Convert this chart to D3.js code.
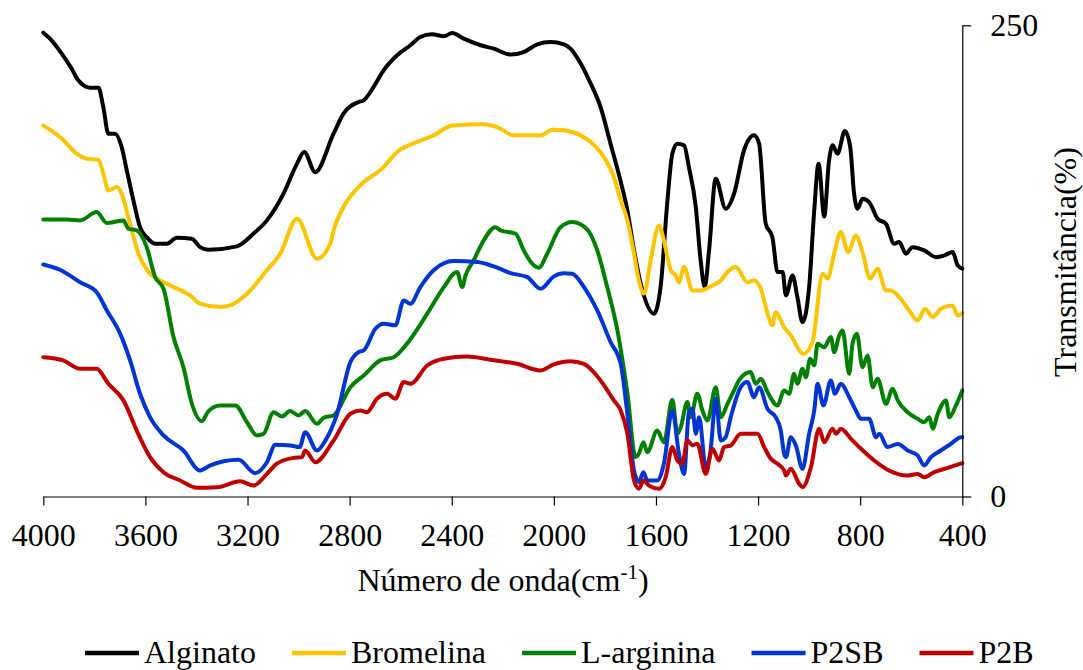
<!DOCTYPE html>
<html>
<head>
<meta charset="utf-8">
<script src="https://cdn.jsdelivr.net/npm/d3@7"></script>
<style>
  html, body { margin: 0; padding: 0; background: #fff; }
  svg { display: block; }
  svg text { font-family: "Liberation Serif", "Times New Roman", Times, Tinos, "Noto Serif", "DejaVu Serif", FreeSerif, serif; fill: #000; }
</style>
</head>
<body>
<svg id="chart" width="1083" height="670"></svg>
<script>
// FTIR spectra: [wavenumber (cm-1), transmittance (%)]
const alginato = [[4000,246.1],[3974,242.9],[3928,235.0],[3889,227.0],[3863,220.8],[3817,216.9],[3784,216.9],[3765,206.6],[3745,192.5],[3719,192.5],[3693,185.4],[3673,173.0],[3647,157.1],[3621,142.9],[3595,137.6],[3562,134.1],[3516,134.1],[3477,137.3],[3418,136.8],[3386,132.3],[3353,130.9],[3242,132.7],[3177,139.4],[3124,146.5],[3059,160.7],[3006,176.6],[2978,182.8],[2935,172.1],[2863,192.5],[2824,203.1],[2765,209.3],[2745,210.2],[2706,217.3],[2667,226.1],[2614,234.1],[2562,239.4],[2523,243.8],[2477,245.2],[2431,244.2],[2398,245.9],[2353,242.9],[2287,239.4],[2235,237.6],[2170,234.5],[2118,235.8],[2065,239.9],[2013,241.1],[1961,239.9],[1935,237.6],[1895,229.7],[1856,219.1],[1817,206.6],[1778,187.2],[1738,167.0],[1712,151.8],[1686,130.6],[1653,109.3],[1608,97.0],[1582,111.1],[1555,157.1],[1536,181.9],[1516,187.2],[1490,186.3],[1471,174.8],[1444,153.6],[1425,125.3],[1409,111.1],[1392,130.6],[1366,168.6],[1327,152.7],[1294,160.7],[1255,183.7],[1216,191.6],[1196,187.2],[1170,144.7],[1144,137.6],[1124,119.1],[1104,119.1],[1091,106.7],[1065,117.3],[1046,105.8],[1026,92.5],[1000,111.1],[980,151.8],[963,176.6],[941,148.6],[922,178.3],[908,186.3],[889,181.9],[860,193.9],[839,185.4],[824,160.7],[810,152.7],[791,158.0],[765,156.2],[732,147.4],[699,144.7],[667,134.1],[647,135.0],[621,128.8],[595,132.3],[549,130.6],[503,127.0],[471,127.9],[438,129.7],[418,122.6],[400,120.9]];

const bromelina = [[4000,196.9],[3928,189.9],[3869,181.9],[3830,179.2],[3784,178.7],[3765,171.3],[3745,162.4],[3712,164.2],[3693,160.7],[3667,148.2],[3627,128.8],[3588,119.1],[3542,114.6],[3484,110.8],[3425,106.7],[3386,102.3],[3307,100.5],[3268,101.4],[3202,107.6],[3124,120.0],[3072,128.8],[3006,147.4],[2928,126.2],[2876,134.1],[2863,141.2],[2824,153.6],[2765,164.2],[2667,174.8],[2614,182.8],[2536,188.1],[2471,191.6],[2398,196.9],[2275,197.5],[2222,196.0],[2157,191.6],[2052,191.6],[2006,194.6],[1961,194.3],[1895,191.6],[1856,188.1],[1804,180.1],[1765,169.5],[1738,157.1],[1712,146.5],[1686,128.8],[1667,114.6],[1647,107.6],[1621,125.3],[1588,143.8],[1569,135.9],[1542,120.0],[1523,117.3],[1510,113.7],[1490,121.7],[1457,109.3],[1425,109.3],[1379,112.0],[1346,114.6],[1320,119.1],[1287,121.7],[1242,113.7],[1216,114.6],[1189,110.2],[1163,97.0],[1144,90.8],[1131,97.8],[1098,89.9],[1072,85.5],[1022,75.7],[987,81.9],[947,118.2],[928,115.6],[902,128.8],[876,140.3],[847,129.7],[817,138.5],[791,129.7],[761,115.6],[732,120.9],[699,109.3],[680,109.3],[647,105.8],[608,98.7],[575,93.4],[546,99.6],[516,95.2],[484,99.6],[438,101.4],[418,96.1],[400,97.3]];

const lArginina = [[4000,146.9],[3908,146.9],[3856,146.5],[3791,150.9],[3751,145.1],[3686,146.5],[3667,142.1],[3634,141.2],[3595,132.3],[3562,116.4],[3529,110.2],[3490,84.6],[3451,68.6],[3418,49.2],[3379,40.0],[3353,45.3],[3307,48.3],[3248,48.3],[3202,39.4],[3163,32.4],[3137,33.3],[3098,44.7],[3065,42.5],[3033,45.3],[3000,43.0],[2974,45.3],[2928,38.6],[2902,41.8],[2863,43.0],[2797,58.0],[2745,64.2],[2680,72.2],[2627,73.9],[2575,81.1],[2496,97.0],[2431,111.1],[2379,119.1],[2359,111.1],[2346,117.3],[2314,125.3],[2281,134.4],[2229,142.9],[2209,141.2],[2150,139.4],[2118,130.6],[2085,123.5],[2059,121.4],[2026,128.8],[1974,142.9],[1928,145.6],[1869,141.6],[1830,130.6],[1791,111.1],[1751,88.1],[1738,78.0],[1712,55.0],[1680,20.9],[1667,22.7],[1649,28.8],[1634,23.5],[1595,35.0],[1569,28.8],[1536,51.3],[1516,33.3],[1503,36.8],[1477,50.1],[1464,42.1],[1438,54.5],[1418,45.6],[1398,40.3],[1366,58.0],[1346,42.1],[1320,49.2],[1294,56.3],[1275,61.6],[1229,66.0],[1209,59.8],[1189,62.5],[1163,55.4],[1124,48.3],[1098,56.3],[1078,54.5],[1059,65.1],[1046,59.8],[1026,67.8],[1013,63.3],[996,73.1],[980,69.5],[967,81.1],[941,79.2],[915,84.6],[902,76.6],[882,85.5],[869,88.1],[843,65.1],[830,81.1],[813,86.4],[791,68.6],[771,74.8],[751,58.0],[732,62.5],[699,49.2],[673,57.2],[653,51.0],[614,44.7],[575,41.2],[549,39.4],[529,42.1],[516,35.9],[496,43.9],[464,51.0],[451,42.1],[425,48.3],[400,56.3]];

const p2sb = [[4000,123.1],[3935,120.3],[3856,113.7],[3791,108.4],[3751,98.7],[3699,86.4],[3660,72.2],[3621,54.5],[3582,42.1],[3529,32.4],[3451,24.4],[3386,13.8],[3346,16.5],[3294,18.7],[3235,19.5],[3170,12.4],[3124,18.2],[3091,27.4],[3033,27.1],[2996,26.2],[2974,34.1],[2928,24.4],[2895,29.7],[2849,43.9],[2797,71.3],[2765,76.6],[2745,77.5],[2699,89.0],[2667,91.7],[2621,90.8],[2588,104.0],[2562,102.3],[2523,111.1],[2471,120.0],[2392,124.9],[2300,124.4],[2235,122.1],[2170,118.5],[2104,116.4],[2052,110.2],[2000,116.8],[1961,118.5],[1928,118.2],[1882,111.1],[1830,98.7],[1778,82.0],[1738,70.4],[1712,43.9],[1686,13.8],[1667,7.6],[1649,12.9],[1634,8.5],[1595,8.5],[1569,17.4],[1536,45.6],[1510,22.7],[1490,12.0],[1471,44.7],[1457,46.5],[1444,33.3],[1431,42.1],[1405,15.5],[1386,24.4],[1366,51.9],[1346,29.7],[1327,31.5],[1307,42.1],[1268,58.0],[1242,60.7],[1216,52.7],[1196,58.0],[1163,46.5],[1131,42.1],[1111,35.0],[1098,22.7],[1091,20.9],[1072,31.5],[1052,27.1],[1026,14.7],[1000,33.3],[980,45.6],[967,59.8],[944,48.3],[915,61.6],[899,54.5],[876,59.8],[843,52.7],[817,45.6],[797,41.2],[765,41.2],[738,31.5],[725,33.3],[693,26.2],[653,27.9],[614,24.4],[575,21.8],[549,16.5],[523,20.9],[484,24.4],[444,28.0],[405,31.5],[400,31.5]];

const p2b = [[4000,73.9],[3922,72.2],[3856,67.8],[3791,67.8],[3745,59.8],[3686,51.0],[3634,35.0],[3582,20.9],[3529,12.9],[3464,8.5],[3398,4.6],[3320,4.9],[3229,8.1],[3177,5.8],[3124,12.0],[3085,17.4],[3020,20.5],[2987,20.9],[2974,24.4],[2935,18.2],[2863,29.7],[2797,43.9],[2758,45.6],[2732,44.7],[2693,51.9],[2653,54.5],[2621,51.9],[2588,60.7],[2562,59.8],[2496,69.5],[2431,73.1],[2340,74.3],[2248,72.6],[2144,70.4],[2052,66.9],[2000,70.1],[1935,71.8],[1882,70.4],[1817,61.6],[1765,51.0],[1738,45.6],[1712,33.3],[1686,8.5],[1667,4.1],[1649,8.5],[1627,5.8],[1588,4.1],[1562,10.2],[1536,26.2],[1516,19.1],[1497,17.4],[1477,29.7],[1457,27.1],[1438,28.0],[1405,12.0],[1379,25.3],[1353,19.1],[1333,26.2],[1307,27.1],[1268,33.3],[1202,33.3],[1176,26.2],[1150,20.0],[1124,17.4],[1098,13.8],[1091,11.1],[1072,14.7],[1039,6.7],[1026,4.9],[993,15.5],[961,35.9],[941,28.8],[908,35.9],[895,33.3],[876,35.9],[836,30.6],[797,25.3],[745,19.1],[693,14.2],[614,11.1],[575,12.0],[549,10.2],[510,12.9],[457,15.2],[400,17.7]];

const seriesNames = ["Alginato", "Bromelina", "L-arginina", "P2SB", "P2B"];
const seriesData = [alginato, bromelina, lArginina, p2sb, p2b];
const seriesColors = ["#000000", "#FFC400", "#008000", "#0035D2", "#C00000"];

const xTicks = [4000, 3600, 3200, 2800, 2400, 2000, 1600, 1200, 800, 400];
const yTicks = [0, 250];

const FONT = '"Liberation Serif", "Times New Roman", Times, Tinos, "Noto Serif", "DejaVu Serif", FreeSerif, serif';

const svg = d3.select("#chart");

const x = d3.scaleLinear().domain([4000, 400]).range([43.3, 962.3]);
const y = d3.scaleLinear().domain([0, 250]).range([496.5, 25.3]);

// spectra
const line = d3.line()
  .x(d => x(d[0]))
  .y(d => y(d[1]))
  .curve(d3.curveMonotoneX);

svg.append("g")
  .selectAll("path")
  .data(seriesData)
  .join("path")
  .attr("d", line)
  .attr("fill", "none")
  .attr("stroke", (d, i) => seriesColors[i])
  .attr("stroke-width", 4)
  .attr("stroke-linejoin", "round")
  .attr("stroke-linecap", "round");

// bottom axis (wavenumber)
const xAxis = svg.append("g")
  .attr("transform", `translate(0,${y(0)})`)
  .call(d3.axisBottom(x).tickValues(xTicks).tickSize(9).tickSizeOuter(0).tickFormat(d3.format("d")))
  .attr("font-family", FONT);
xAxis.select(".domain").attr("stroke", "#000").attr("stroke-width", 1.2);
xAxis.selectAll(".tick line").attr("stroke", "#000").attr("stroke-width", 1.2);
xAxis.selectAll(".tick text")
  .attr("y", 49).attr("dy", null)
  .style("font-size", "32px")
  .style("font-family", FONT)
  .attr("fill", "#000");

// right axis (transmittance)
const yAxis = svg.append("g")
  .attr("transform", `translate(${x(400)},0)`)
  .call(d3.axisRight(y).tickValues(yTicks).tickSize(9).tickSizeOuter(0))
  .attr("font-family", FONT);
yAxis.select(".domain").attr("stroke", "#000").attr("stroke-width", 1.2);
yAxis.selectAll(".tick line").attr("stroke", "#000").attr("stroke-width", 1.2);
yAxis.selectAll(".tick text")
  .attr("x", 28).attr("dy", "0.32em")
  .style("font-size", "32px")
  .style("font-family", FONT)
  .attr("fill", "#000");

// axis titles
const xTitle = svg.append("text")
  .attr("x", 503).attr("y", 591)
  .attr("text-anchor", "middle")
  .style("font-family", FONT)
  .style("font-size", "32px");
xTitle.append("tspan").text("Número de onda(cm");
xTitle.append("tspan").text("-1").attr("dy", -12).style("font-size", "21px");
xTitle.append("tspan").text(")").attr("dy", 12);

svg.append("text")
  .attr("transform", "translate(1076,262) rotate(-90)")
  .attr("text-anchor", "middle")
  .style("font-family", FONT)
  .style("font-size", "32px")
  .text("Transmitância(%)");

// legend
const legend = svg.append("g");
let lx = 85;
seriesNames.forEach((name, i) => {
  legend.append("line")
    .attr("x1", lx).attr("x2", lx + 54)
    .attr("y1", 653).attr("y2", 653)
    .attr("stroke", seriesColors[i])
    .attr("stroke-width", 4.5);
  const t = legend.append("text")
    .attr("x", lx + 59).attr("y", 663)
    .style("font-family", FONT)
    .style("font-size", "32px")
    .text(name);
  lx += 59 + t.node().getComputedTextLength() + 36;
});
</script>
</body>
</html>
